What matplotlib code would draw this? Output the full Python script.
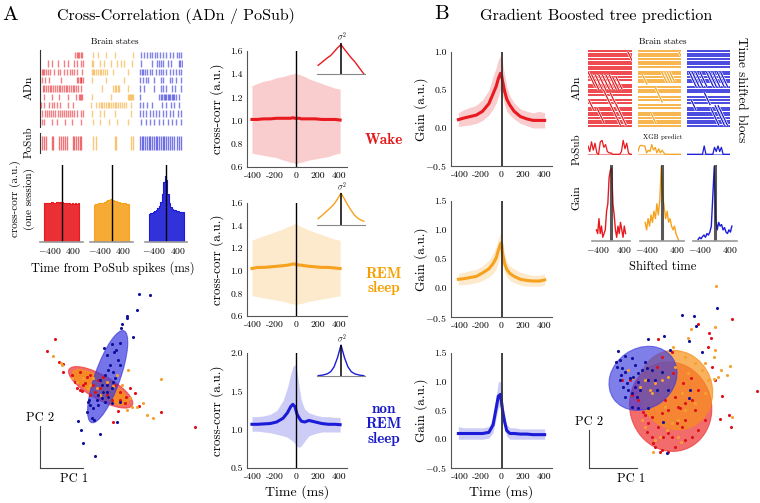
import numpy as np
import matplotlib
matplotlib.use('Agg')
import matplotlib.pyplot as plt
from matplotlib.patches import Ellipse

plt.rcParams['font.family'] = 'serif'
plt.rcParams['font.serif'] = ['cmr10']
plt.rcParams['mathtext.fontset'] = 'cm'
plt.rcParams['axes.unicode_minus'] = False

W, H = 760, 503
RED = '#e8191f'
ORANGE = '#f6a21e'
BLUE = '#1b1bd8'
RED_T = '#e31a1c'
ORANGE_T = '#f5a000'
BLUE_T = '#1a1ac8'

# ---------- data: ADn / PoSub spike rasters (fraction of block) ----------
adn_wake = [
    [0.78, 0.81, 0.84, 0.87, 0.9, 0.93],
    [0.16, 0.25, 0.39, 0.52, 0.62, 0.76, 0.82, 0.9, 0.96],
    [0.02, 0.05, 0.08, 0.11, 0.15, 0.2, 0.3, 0.38, 0.44, 0.52, 0.6, 0.67, 0.71, 0.75, 0.82, 0.93],
    [0.03, 0.1, 0.19, 0.45, 0.82, 0.85, 0.88, 0.9, 0.92, 0.95],
    [0.04, 0.08, 0.12, 0.16, 0.2, 0.24, 0.28, 0.32, 0.36, 0.4, 0.44, 0.48, 0.52, 0.56, 0.6, 0.64,
     0.68, 0.72, 0.76, 0.8, 0.85, 0.92],
    [0.08, 0.25, 0.4, 0.62, 0.8, 0.87, 0.89, 0.91, 0.93],
    [0.0, 0.08, 0.18, 0.25, 0.3, 0.37, 0.44, 0.62, 0.73],
    [0.03, 0.1, 0.14, 0.18, 0.22, 0.28, 0.33, 0.38, 0.43, 0.48, 0.53, 0.58, 0.62, 0.66, 0.7, 0.76,
     0.82, 0.9, 0.96],
    [0.02, 0.08, 0.25, 0.36, 0.55, 0.7, 0.92],
]
adn_rem = [
    [0.05, 0.15, 0.35, 0.55, 0.95],
    [0.02, 0.05, 0.2, 0.3, 0.45, 0.6, 0.68, 0.75, 0.93],
    [0.02, 0.05, 0.08, 0.12, 0.16, 0.2, 0.24, 0.28, 0.32, 0.36, 0.5, 0.85],
    [0.02, 0.35, 0.75],
    [0.25, 0.5, 0.55, 0.58, 0.61, 0.64, 0.85],
    [0.02, 0.45, 0.85, 0.87, 0.89, 0.91, 0.93, 0.95],
    [0.0, 0.12, 0.18, 0.22, 0.26, 0.3, 0.34, 0.38, 0.42, 0.46, 0.5, 0.54, 0.58, 0.62, 0.66, 0.7,
     0.75, 0.8, 0.9],
    [0.03, 0.2, 0.3, 0.55, 0.92],
    [0.05, 0.2, 0.4, 0.6, 0.85],
]
adn_sws = [
    [0.05, 0.12, 0.18, 0.25, 0.3, 0.36, 0.42, 0.48, 0.55, 0.62, 0.7, 0.78, 0.86, 0.92, 0.96],
    [0.05, 0.3, 0.4, 0.45, 0.5, 0.55, 0.65, 0.72, 0.9, 0.94, 0.97],
    [0.02, 0.06, 0.1, 0.14, 0.18, 0.26, 0.3, 0.38, 0.45, 0.5, 0.55, 0.62, 0.7, 0.78, 0.85, 0.92, 0.96],
    [0.03, 0.1, 0.15, 0.2, 0.35, 0.5, 0.55, 0.7, 0.75, 0.85, 0.95],
    [0.03, 0.12, 0.35, 0.5, 0.55, 0.62, 0.75, 0.82, 0.96],
    [0.02, 0.45, 0.5, 0.53, 0.56, 0.59, 0.62, 0.65, 0.68, 0.71, 0.74, 0.77, 0.8, 0.83, 0.92],
    [0.02, 0.1, 0.18, 0.3, 0.52, 0.62, 0.72, 0.8, 0.9],
    [0.03, 0.1, 0.15, 0.25, 0.32, 0.38, 0.45, 0.55, 0.62, 0.7, 0.78, 0.88, 0.96],
    [0.05, 0.15, 0.25, 0.35, 0.45, 0.55, 0.65, 0.75, 0.85, 0.95],
]
posub_wake = [0.03, 0.08, 0.12, 0.25, 0.28, 0.4, 0.45, 0.5, 0.55, 0.6, 0.72, 0.75, 0.8, 0.84, 0.88, 0.92]
posub_rem = [0.05, 0.12, 0.55, 0.58, 0.92, 0.95]
posub_sws = [0.02, 0.06, 0.1, 0.14, 0.18, 0.22, 0.26, 0.3, 0.34, 0.38, 0.42, 0.46, 0.5, 0.54,
             0.58, 0.62, 0.66, 0.7, 0.74, 0.8, 0.86, 0.9, 0.95]

# ---------- data: one-session cross-corr histograms ----------
hist_edges = np.arange(-600, 601, 50)
hist_wake = [0.50, 0.51, 0.51, 0.50, 0.51, 0.52, 0.51, 0.51, 0.52, 0.52, 0.51, 0.52,
             0.52, 0.51, 0.51, 0.50, 0.51, 0.50, 0.49, 0.50, 0.49, 0.50, 0.49, 0.50]
hist_rem = [0.48, 0.49, 0.49, 0.50, 0.50, 0.51, 0.51, 0.52, 0.53, 0.54, 0.55, 0.56,
            0.55, 0.54, 0.53, 0.53, 0.52, 0.52, 0.51, 0.51, 0.50, 0.50, 0.49, 0.49]
hist_sws = [0.37, 0.38, 0.38, 0.39, 0.40, 0.42, 0.44, 0.47, 0.52, 0.62, 0.78, 0.86,
            0.80, 0.62, 0.50, 0.45, 0.43, 0.42, 0.41, 0.40, 0.40, 0.39, 0.39, 0.39]

# ---------- data: population cross-corr ----------
lags = [-410, -360, -300, -240, -180, -120, -80, -50, -30, -10, 0, 10, 30, 50, 80, 120, 180, 240, 300, 360, 410]
cc_wake = [1.01, 1.01, 1.015, 1.015, 1.02, 1.02, 1.02, 1.02, 1.025, 1.02, 1.02, 1.02, 1.02, 1.015,
           1.015, 1.015, 1.015, 1.01, 1.01, 1.01, 1.005]
cc_wake_hi = [1.30, 1.32, 1.34, 1.35, 1.37, 1.38, 1.39, 1.40, 1.40, 1.41, 1.41, 1.40, 1.40, 1.39,
              1.38, 1.36, 1.34, 1.32, 1.30, 1.28, 1.27]
cc_wake_lo = [0.72, 0.71, 0.70, 0.69, 0.68, 0.66, 0.65, 0.64, 0.64, 0.63, 0.63, 0.63, 0.64, 0.64,
              0.65, 0.66, 0.67, 0.68, 0.69, 0.71, 0.72]
cc_rem = [1.02, 1.03, 1.03, 1.035, 1.04, 1.045, 1.05, 1.055, 1.06, 1.06, 1.055, 1.055, 1.05, 1.05,
          1.045, 1.04, 1.035, 1.03, 1.03, 1.025, 1.02]
cc_rem_hi = [1.27, 1.29, 1.31, 1.33, 1.35, 1.37, 1.39, 1.40, 1.41, 1.42, 1.42, 1.41, 1.40, 1.39,
             1.38, 1.36, 1.34, 1.32, 1.30, 1.28, 1.27]
cc_rem_lo = [0.78, 0.77, 0.76, 0.75, 0.74, 0.73, 0.72, 0.71, 0.71, 0.70, 0.70, 0.70, 0.71, 0.71,
             0.72, 0.73, 0.74, 0.75, 0.76, 0.77, 0.78]
cc_sws = [1.07, 1.07, 1.075, 1.08, 1.10, 1.15, 1.22, 1.30, 1.33, 1.30, 1.25, 1.20, 1.15, 1.11,
          1.10, 1.12, 1.10, 1.08, 1.07, 1.07, 1.065]
cc_sws_hi = [1.17, 1.17, 1.18, 1.20, 1.25, 1.38, 1.55, 1.72, 1.82, 1.85, 1.82, 1.75, 1.55, 1.38,
             1.27, 1.22, 1.19, 1.17, 1.17, 1.16, 1.16]
cc_sws_lo = [0.98, 0.98, 0.97, 0.96, 0.94, 0.92, 0.90, 0.87, 0.85, 0.82, 0.80, 0.78, 0.77, 0.79,
             0.85, 0.92, 0.95, 0.97, 0.97, 0.97, 0.97]

# ---------- data: insets (variance profile) ----------
inset_x = [-1, -0.8, -0.6, -0.45, -0.3, -0.15, 0, 0.15, 0.3, 0.45, 0.6, 0.8, 1]
inset_wake = [0.28, 0.40, 0.52, 0.60, 0.72, 0.85, 0.95, 0.80, 0.66, 0.52, 0.40, 0.20, 0.0]
inset_rem = [0.20, 0.32, 0.45, 0.55, 0.66, 0.82, 1.0, 0.82, 0.62, 0.45, 0.30, 0.18, 0.12]
inset_sws = [0.01, 0.03, 0.07, 0.14, 0.30, 0.60, 1.0, 0.60, 0.30, 0.14, 0.07, 0.03, 0.01]

# ---------- data: XGB gain ----------
gain_wake = [0.11, 0.13, 0.15, 0.17, 0.22, 0.32, 0.45, 0.55, 0.65, 0.72, 0.70, 0.62, 0.48, 0.38,
             0.30, 0.22, 0.15, 0.12, 0.10, 0.10, 0.10]
gain_wake_hi = [0.20, 0.24, 0.27, 0.30, 0.37, 0.50, 0.68, 0.80, 0.90, 0.95, 0.92, 0.85, 0.70, 0.55,
                0.42, 0.33, 0.25, 0.22, 0.20, 0.22, 0.20]
gain_wake_lo = [0.02, 0.03, 0.04, 0.06, 0.10, 0.17, 0.25, 0.33, 0.42, 0.50, 0.48, 0.42, 0.30, 0.22,
                0.17, 0.12, 0.06, 0.03, 0.0, 0.0, 0.0]
gain_rem = [0.15, 0.16, 0.18, 0.20, 0.26, 0.33, 0.42, 0.52, 0.65, 0.76, 0.78, 0.60, 0.42, 0.32,
            0.25, 0.20, 0.15, 0.13, 0.12, 0.12, 0.14]
gain_rem_hi = [0.25, 0.27, 0.30, 0.32, 0.38, 0.48, 0.60, 0.72, 0.85, 0.95, 0.98, 0.80, 0.58, 0.46,
               0.38, 0.33, 0.27, 0.24, 0.22, 0.22, 0.24]
gain_rem_lo = [0.05, 0.06, 0.07, 0.09, 0.13, 0.19, 0.25, 0.33, 0.45, 0.56, 0.58, 0.42, 0.27, 0.20,
               0.13, 0.09, 0.05, 0.03, 0.03, 0.03, 0.05]
gain_sws = [0.10, 0.10, 0.10, 0.10, 0.10, 0.12, 0.25, 0.55, 0.75, 0.78, 0.65, 0.50, 0.30, 0.15,
            0.10, 0.10, 0.09, 0.09, 0.08, 0.08, 0.08]
gain_sws_hi = [0.22, 0.20, 0.20, 0.20, 0.20, 0.22, 0.38, 0.75, 1.00, 1.00, 0.85, 0.65, 0.42, 0.25,
               0.20, 0.20, 0.18, 0.18, 0.18, 0.18, 0.18]
gain_sws_lo = [0.0, 0.0, 0.0, 0.0, 0.0, 0.02, 0.12, 0.38, 0.55, 0.58, 0.45, 0.35, 0.18, 0.05,
               0.0, 0.0, 0.0, 0.0, 0.0, 0.0, 0.0]

# ---------- data: time shifted blocs (rows) ----------
n_rows = 30
gaps_wake = [12, 18, 21]
gaps_rem = [7, 13, 17, 20, 23]
gaps_sws = [7, 13, 17, 21]
# (x start, first row, number of rows) of shifted spikes
diag_wake = [(0.0, 8, 6), (0.08, 9, 6), (0.16, 9, 6), (0.24, 9, 6), (0.32, 9, 6), (0.4, 9, 6),
             (0.48, 9, 6), (0.56, 10, 5), (0.64, 10, 5), (0.35, 15, 14), (0.5, 16, 13),
             (0.62, 20, 9), (0.9, 0, 4), (0.02, 19, 4), (0.2, 22, 6)]
diag_rem = [(0.1, 9, 4), (0.4, 14, 6), (0.55, 8, 4), (0.62, 8, 4), (0.68, 8, 4), (0.74, 8, 4),
            (0.3, 24, 4), (0.95, 0, 2)]
diag_sws = [(0.05, 8, 6), (0.12, 8, 6), (0.2, 8, 6), (0.3, 8, 6), (0.45, 8, 6), (0.52, 8, 6),
            (0.6, 8, 6), (0.7, 8, 6), (0.78, 8, 6), (0.4, 16, 5), (0.55, 22, 7), (0.65, 21, 8),
            (0.72, 21, 8), (0.1, 19, 4)]
xgb_wake = [0.6, 0.2, 0.9, 0.3, 0.8, 0.1, 0.0, 0.9, 1.0, 0.5, 0.7, 0.2, 0.1, 0.1, 0.0, 0.0, 0.0,
            0.0, 0.0, 0.2, 1.0, 0.4, 0.8, 0.1, 0.0, 0.0]
xgb_rem = [0.2, 0.6, 0.65, 0.6, 0.6, 0.1, 0.3, 0.2, 0.7, 0.3, 0.5, 0.1, 0.4, 0.1, 0.3, 0.1, 0.0,
           0.0, 0.0, 0.0, 0.0, 0.0, 0.0, 0.0, 0.0, 0.0]
xgb_sws = [0.0, 0.0, 0.0, 0.0, 0.0, 0.0, 0.0, 0.0, 0.0, 0.0, 0.6, 0.0, 0.0, 0.0, 0.0, 0.0, 0.5,
           0.2, 0.6, 0.2, 0.5, 0.0, 0.0, 0.0, 0.0, 0.0]

shift_t = np.arange(-460, 461, 40)
gshift_wake = [0.15, 0.10, 0.30, 0.10, 0.20, 0.05, 0.10, 0.15, 0.40, 0.50, 0.85, 0.95, 0.98, 0.50,
               0.35, 0.15, 0.05, 0.20, 0.10, 0.25, 0.15, 0.05, 0.20, 0.10]
gshift_rem = [0.25, 0.15, 0.30, 0.20, 0.35, 0.25, 0.40, 0.30, 0.50, 0.35, 0.55, 1.00, 0.60, 0.45,
              0.30, 0.40, 0.25, 0.30, 0.20, 0.15, 0.20, 0.10, 0.05, 0.0]
gshift_sws = [0.02, 0.05, 0.03, 0.06, 0.08, 0.05, 0.10, 0.08, 0.12, 0.20, 0.60, 1.00, 0.30, 0.15,
              0.25, 0.20, 0.22, 0.15, 0.18, 0.12, 0.10, 0.15, 0.12, 0.20]

# ---------- data: PCA scatter (arbitrary units) ----------
pcaA_b1 = [296, 331, 292, 262, 260, 247, 244, 278, 216, 193, 241, 228, 200, 235, 222, 210, 240, 205,
           218, 195, 225, 180, 200, 215, 190, 175, 205, 185, 170, 145, 150, 160, 175, 140, 155, 162,
           113, 122, 232, 180, 128, 165, 148, 200, 220, 185, 195, 240, 215]
pcaA_b2 = [26, 31, 75, 92, 98, 116, 129, 156, 178, 190, 173, 195, 210, 225, 200, 240, 240, 255, 262,
           270, 280, 285, 300, 310, 320, 330, 335, 340, 345, 350, 360, 370, 360, 380, 400, 405, 408,
           435, 410, 447, 473, 514, 345, 320, 290, 300, 350, 350, 355]
pcaA_r1 = [46, 22, 57, 70, 70, 95, 120, 140, 105, 128, 120, 160, 175, 180, 165, 200, 225, 240, 258,
           270, 285, 255, 235, 297, 362, 220, 465, 135, 190, 150, 215, 240, 150, 110, 125]
pcaA_r2 = [161, 198, 230, 238, 260, 270, 262, 275, 290, 300, 315, 300, 285, 310, 320, 330, 300, 320,
           335, 310, 325, 355, 378, 362, 380, 411, 425, 295, 275, 330, 345, 345, 270, 310, 318]
pcaA_o1 = [40, 62, 65, 95, 110, 130, 150, 170, 190, 200, 218, 264, 270, 290, 310, 320, 338, 362, 262,
           230, 180, 145, 245, 205, 275, 160]
pcaA_o2 = [212, 235, 240, 280, 290, 280, 300, 310, 320, 290, 302, 254, 338, 365, 355, 390, 398, 282,
           376, 270, 330, 310, 300, 335, 365, 280]

pcaB_b1 = [395, 292, 328, 333, 312, 352, 238, 190, 100, 93, 105, 120, 140, 110, 120, 105, 115, 125,
           135, 145, 150, 160, 130, 140, 165, 120, 155, 180, 185, 200, 210, 230, 190, 215, 250, 312,
           315, 140, 160, 190, 235, 245, 255, 170, 108, 150, 95, 160]
pcaB_b2 = [83, 104, 107, 138, 184, 216, 167, 177, 213, 245, 240, 228, 235, 265, 275, 300, 320, 310,
           295, 290, 320, 305, 330, 340, 330, 350, 350, 245, 265, 270, 300, 275, 300, 330, 330, 355,
           330, 382, 385, 385, 425, 520, 210, 270, 285, 255, 260, 280]
pcaB_r1 = [442, 340, 371, 378, 368, 220, 260, 232, 380, 390, 410, 515, 433, 437, 404, 360, 340, 320,
           300, 290, 270, 250, 230, 210, 200, 185, 190, 220, 250, 275, 280, 285, 300, 320, 270, 250,
           230, 200, 240, 300, 330, 175, 160, 140, 135, 110, 215, 265, 295, 180, 205, 235, 260, 340,
           318, 226]
pcaB_r2 = [118, 131, 158, 175, 200, 177, 215, 232, 260, 300, 348, 333, 405, 440, 416, 420, 450, 470,
           480, 440, 500, 515, 510, 500, 470, 455, 430, 440, 460, 430, 380, 385, 370, 360, 350, 390,
           400, 410, 360, 420, 390, 395, 360, 345, 300, 300, 260, 280, 310, 405, 490, 470, 470, 330,
           295, 515]
pcaB_o1 = [393, 390, 319, 310, 390, 387, 408, 425, 435, 400, 388, 440, 130, 145, 165, 180, 195, 200,
           210, 230, 250, 270, 300, 330, 350, 370, 360, 330, 300, 280, 260, 245, 225, 210, 205, 180,
           170, 360, 265, 310, 290, 240, 280, 288]
pcaB_o2 = [18, 140, 148, 175, 210, 232, 270, 285, 258, 292, 298, 410, 270, 295, 320, 300, 330, 340,
           310, 300, 290, 260, 230, 250, 270, 300, 340, 370, 390, 420, 430, 450, 470, 480, 515, 440,
           420, 250, 200, 280, 340, 380, 470, 485]

# ellipses: centre x, centre y, width, height, angle
ellA = {'wake': (182, 307, 218, 72, 29.6), 'rem': (182, 307, 190, 56, 29.6), 'sws': (203, 275, 292, 76, -70.6)}
ellB = {'wake': (257, 380, 245, 270, -15), 'rem': (272, 330, 220, 240, -20), 'sws': (174, 295, 215, 180, -35)}

fig = plt.figure(figsize=(7.6, 5.03), dpi=100)


def rect(x0, y0, x1, y1):
    return [x0 / W, 1 - y1 / H, (x1 - x0) / W, (y1 - y0) / H]


def ftext(x, y, s, **kw):
    fig.text(x / W, 1 - y / H, s, **kw)


def clean(ax):
    for s in ax.spines.values():
        s.set_visible(False)
    ax.set_xticks([])
    ax.set_yticks([])


# ---------------- Panel A ----------------
ftext(10, 15, 'A', fontsize=15, ha='center', va='center')
ftext(176, 16, 'Cross-Correlation (ADn / PoSub)', fontsize=11.5, ha='center', va='center')
ftext(115, 42, 'Brain states', fontsize=6.5, ha='center', va='center')

blocksA = [(40, 85), (90, 135), (138, 183)]
rasters = [(adn_wake, posub_wake, RED), (adn_rem, posub_rem, ORANGE), (adn_sws, posub_sws, BLUE)]
for i, ((x0, x1), (adn, pos, c)) in enumerate(zip(blocksA, rasters)):
    ax = fig.add_axes(rect(x0, 50, x1, 127))
    clean(ax)
    for r, spk in enumerate(adn):
        ax.vlines(spk, r - 0.38, r + 0.38, color=c, lw=1.0, alpha=0.55)
    ax.set_xlim(-0.02, 1.0)
    ax.set_ylim(8.6, -0.6)
    ax2 = fig.add_axes(rect(x0, 133, x1, 153))
    clean(ax2)
    ax2.vlines(pos, -0.4, 0.4, color=c, lw=1.0, alpha=0.6)
    ax2.set_xlim(-0.02, 1.0)
    ax2.set_ylim(-0.6, 0.6)
    if i == 0:
        for a in (ax, ax2):
            a.spines['left'].set_visible(True)
            a.spines['left'].set_color('#333333')
            a.spines['left'].set_linewidth(0.8)
ftext(29, 88, 'ADn', fontsize=8.5, rotation=90, ha='center', va='center')
ftext(29, 142, 'PoSub', fontsize=8, rotation=90, ha='center', va='center')
ftext(22, 199, 'cross-corr (a.u.)\n(one session)', fontsize=8, rotation=90,
      ha='center', va='center', linespacing=1.3)

histsA = [((40, 83), hist_wake, RED), ((90, 133), hist_rem, ORANGE), ((145, 187), hist_sws, BLUE)]
for (x0, x1), vals, c in histsA:
    ax = fig.add_axes(rect(x0, 165, x1, 242))
    ax.stairs(vals, hist_edges, fill=True, color=c, alpha=0.9, lw=0)
    ax.stairs(vals, hist_edges, color=c, lw=0.8, baseline=0)
    ax.axvline(0, color='k', lw=1)
    ax.set_xlim(-720, 720)
    ax.set_ylim(0, 1)
    for s in ['top', 'right', 'left']:
        ax.spines[s].set_visible(False)
    ax.spines['bottom'].set_color('#999999')
    ax.spines['bottom'].set_linewidth(1.2)
    ax.set_yticks([])
    ax.set_xticks([-400, 400])
    ax.set_xticklabels(['$-400$', '$400$'])
    ax.tick_params(length=0, labelsize=7, pad=3)
ftext(113, 268, 'Time from PoSub spikes (ms)', fontsize=9, ha='center', va='center')


def style_axes(ax):
    for s in ['top', 'right']:
        ax.spines[s].set_visible(False)
    for s in ['left', 'bottom']:
        ax.spines[s].set_color('#555555')
        ax.spines[s].set_linewidth(0.8)
    ax.tick_params(length=0, labelsize=7, pad=3)


ccA = [((247, 51, 347, 167), cc_wake, cc_wake_lo, cc_wake_hi, RED, (0.6, 1.6), [0.6, 0.8, 1.0, 1.2, 1.4, 1.6]),
       ((247, 203, 347, 316), cc_rem, cc_rem_lo, cc_rem_hi, ORANGE, (0.6, 1.6), [0.6, 0.8, 1.0, 1.2, 1.4, 1.6]),
       ((247, 353, 347, 468), cc_sws, cc_sws_lo, cc_sws_hi, BLUE, (0.5, 2.0), [0.5, 1.0, 1.5, 2.0])]
for box, m, lo, hi, c, yl, yt in ccA:
    ax = fig.add_axes(rect(*box))
    ax.fill_between(lags, lo, hi, color=c, alpha=0.22, lw=0)
    ax.plot(lags, m, color=c, lw=2.2)
    ax.axvline(0, color='k', lw=1)
    ax.set_xlim(-456, 474)
    ax.set_ylim(*yl)
    ax.set_yticks(yt)
    ax.set_yticklabels(['%.1f' % v for v in yt])
    ax.set_xticks([-400, -200, 0, 200, 400])
    ax.set_xticklabels(['-400', '-200', '0', '200', '400'])
    style_axes(ax)
    ax.set_ylabel('cross-corr (a.u.)', fontsize=9.5)
    ax.yaxis.set_label_coords(-0.23, 0.5)
ax.set_xlabel('Time (ms)', fontsize=10, labelpad=3)

insets = [((317, 40, 365, 74), inset_wake, RED), ((317, 190, 365, 225), inset_rem, ORANGE),
          ((317, 342, 365, 376), inset_sws, BLUE)]
for box, vals, c in insets:
    ax = fig.add_axes(rect(*box))
    ax.patch.set_alpha(0)
    ax.plot(inset_x, vals, color=c, lw=1)
    ax.vlines(0, 0, 1.0, color='k', lw=1.1)
    ax.text(0.05, 1.0, r'$\sigma^2$', fontsize=6, ha='center', va='bottom')
    ax.set_xlim(-1.05, 1.05)
    ax.set_ylim(0, 1.1)
    clean(ax)
    ax.spines['bottom'].set_visible(True)
    ax.spines['bottom'].set_color('#888888')
    ax.spines['bottom'].set_linewidth(0.8)

ftext(384, 140, 'Wake', family='cmb10', fontsize=11, color=RED_T, ha='center', va='center')
ftext(384, 281, 'REM\nsleep', family='cmb10', fontsize=11, color=ORANGE_T, ha='center',
      va='center', linespacing=1.05)
ftext(384, 424, 'non\nREM\nsleep', family='cmb10', fontsize=11, color=BLUE_T, ha='center',
      va='center', linespacing=1.1)

# PCA scatter A
ax = fig.add_axes(rect(40, 285, 200, 460))
ax.set_xlim(0, 480)
ax.set_ylim(525, 0)
ax.axis('off')
for key, c, a in [('wake', '#ee3b3b', 0.75), ('rem', '#f7901a', 0.85), ('sws', '#3a3ae0', 0.7)]:
    cx, cy, w, h, ang = ellA[key]
    ax.add_patch(Ellipse((cx, cy), w, h, angle=ang, facecolor=c, alpha=a, edgecolor=c, lw=0.8))
ax.scatter(pcaA_r1, pcaA_r2, s=5, color='#e0101a', lw=0, zorder=3)
ax.scatter(pcaA_o1, pcaA_o2, s=5, color='#f5a030', lw=0, zorder=3)
ax.scatter(pcaA_b1, pcaA_b2, s=5, color='#10109a', lw=0, zorder=3)

axL = fig.add_axes(rect(40, 426, 83, 468))
clean(axL)
axL.patch.set_alpha(0)
for s in ['left', 'bottom']:
    axL.spines[s].set_visible(True)
    axL.spines[s].set_color('#444444')
ftext(40, 418, 'PC 2', fontsize=9, ha='center', va='center')
ftext(74, 479, 'PC 1', fontsize=9, ha='center', va='center')

# ---------------- Panel B ----------------
ftext(442, 14, 'B', fontsize=15, ha='center', va='center')
ftext(596, 16, 'Gradient Boosted tree prediction', fontsize=11.6, ha='center', va='center')

gainB = [((451, 52, 552, 166), gain_wake, gain_wake_lo, gain_wake_hi, RED, (-0.5, 1.0)),
         ((451, 201, 552, 317), gain_rem, gain_rem_lo, gain_rem_hi, ORANGE, (-0.5, 1.5)),
         ((451, 353, 552, 468), gain_sws, gain_sws_lo, gain_sws_hi, BLUE, (-0.5, 1.5))]
for box, m, lo, hi, c, yl in gainB:
    ax = fig.add_axes(rect(*box))
    ax.fill_between(lags, lo, hi, color=c, alpha=0.22, lw=0)
    ax.plot(lags, m, color=c, lw=2.2)
    ax.axvline(0, color='#333333', lw=1.3)
    ax.set_xlim(-480, 480)
    ax.set_ylim(*yl)
    yt = np.arange(yl[0], yl[1] + 0.01, 0.5)
    ax.set_yticks(yt)
    ax.set_yticklabels(['$-0.5$' if v < 0 else '%.1f' % v for v in yt])
    ax.set_xticks([-400, -200, 0, 200, 400])
    ax.set_xticklabels(['-400', '-200', '0', '200', '400'])
    style_axes(ax)
    ax.set_ylabel('Gain (a.u.)', fontsize=9.5)
    ax.yaxis.set_label_coords(-0.23, 0.5)
ax.set_xlabel('Time (ms)', fontsize=10, labelpad=3)

ftext(663, 42, 'Brain states', fontsize=6.5, ha='center', va='center')
ftext(741, 90, 'Time shifted blocs', fontsize=9.5, rotation=-90, ha='center', va='center')
ftext(577, 88, 'ADn', fontsize=8.5, rotation=90, ha='center', va='center')
ftext(577, 149, 'PoSub', fontsize=8, rotation=90, ha='center', va='center')
ftext(577, 198, 'Gain', fontsize=8.5, rotation=90, ha='center', va='center')
ftext(663, 137, 'XGB predict', fontsize=5, ha='center', va='center')

blocksB = [(588, 632), (638, 681), (687, 730)]
shifted = [(gaps_wake, diag_wake, xgb_wake, RED), (gaps_rem, diag_rem, xgb_rem, ORANGE),
           (gaps_sws, diag_sws, xgb_sws, BLUE)]
dx = 0.028
for (x0, x1), (gaps, diags, xgb, c) in zip(blocksB, shifted):
    ax = fig.add_axes(rect(x0, 50, x1, 127))
    clean(ax)
    rows = [r for r in range(n_rows) if r not in gaps]
    ax.hlines(rows, 0, 1, color=c, lw=1.4, alpha=0.8)
    for xs, r0, n in diags:
        ax.plot([xs, xs + n * dx], [r0, r0 + n], color='white', lw=1.8, solid_capstyle='butt')
        ax.plot([xs, xs + n * dx], [r0, r0 + n], color=c, lw=0.9, solid_capstyle='butt')
    ax.set_xlim(0, 1)
    ax.set_ylim(n_rows - 0.5, -0.5)
    ax2 = fig.add_axes(rect(x0, 139, x1, 155))
    clean(ax2)
    ax2.plot(np.arange(len(xgb)), xgb, color=c, lw=0.9)
    ax2.axhline(0, color=c, lw=0.8, alpha=0.5)
    ax2.set_xlim(0, len(xgb) - 1)
    ax2.set_ylim(-0.05, 1.1)

gsmall = [((592, 630), gshift_wake, RED), ((640, 684), gshift_rem, ORANGE), ((693, 737), gshift_sws, BLUE)]
for (x0, x1), vals, c in gsmall:
    ax = fig.add_axes(rect(x0, 165, x1, 241))
    ax.plot(shift_t, vals, color=c, lw=1)
    ax.axvline(0, color='#222222', lw=2.2, alpha=0.75)
    ax.set_xlim(-600, 600)
    ax.set_ylim(0, 1.02)
    for s in ['top', 'right', 'left']:
        ax.spines[s].set_visible(False)
    ax.spines['bottom'].set_color('#999999')
    ax.spines['bottom'].set_linewidth(1.2)
    ax.set_yticks([])
    ax.set_xticks([-400, 400])
    ax.set_xticklabels(['$-400$', '$400$'])
    ax.tick_params(length=0, labelsize=7, pad=3)
ftext(663, 267, 'Shifted time', fontsize=9, ha='center', va='center')

# PCA scatter B
ax = fig.add_axes(rect(585, 280, 760, 455))
ax.set_xlim(0, 525)
ax.set_ylim(525, 0)
ax.axis('off')
for key, c, a in [('wake', '#ee3b3b', 0.75), ('rem', '#f7901a', 0.7), ('sws', '#3a3ae0', 0.65)]:
    cx, cy, w, h, ang = ellB[key]
    ax.add_patch(Ellipse((cx, cy), w, h, angle=ang, facecolor=c, alpha=a, edgecolor=c, lw=0.8))
ax.scatter(pcaB_r1, pcaB_r2, s=5, color='#e0101a', lw=0, zorder=3)
ax.scatter(pcaB_o1, pcaB_o2, s=5, color='#f5a030', lw=0, zorder=3)
ax.scatter(pcaB_b1, pcaB_b2, s=5, color='#10109a', lw=0, zorder=3)

axL = fig.add_axes(rect(589, 430, 637, 468))
clean(axL)
axL.patch.set_alpha(0)
for s in ['left', 'bottom']:
    axL.spines[s].set_visible(True)
    axL.spines[s].set_color('#444444')
ftext(589, 422, 'PC 2', fontsize=9, ha='center', va='center')
ftext(631, 479, 'PC 1', fontsize=9, ha='center', va='center')

fig.savefig('out.png', dpi=100)
